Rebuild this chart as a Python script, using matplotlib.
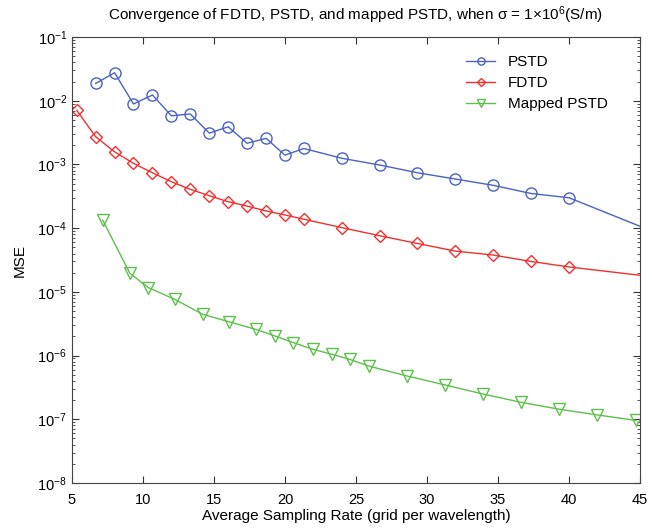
import matplotlib
matplotlib.use("Agg")
from matplotlib import pyplot as plt
from matplotlib.ticker import LogLocator, NullFormatter
import numpy as np

plt.rcParams['font.family'] = ['Liberation Sans', 'DejaVu Sans']
plt.rcParams['mathtext.fontset'] = 'custom'
plt.rcParams['mathtext.rm'] = 'Liberation Sans'
plt.rcParams['mathtext.it'] = 'Liberation Sans:italic'

# sampling rates (grid per wavelength)
pstd_x = [6.67, 8.0, 9.33, 10.67, 12.0, 13.33, 14.67, 16.0, 17.33, 18.67, 20.0,
          21.33, 24.0, 26.67, 29.33, 32.0, 34.67, 37.33, 40.0, 45.0]
pstd_y = [1.87e-2, 2.75e-2, 8.9e-3, 1.23e-2, 5.8e-3, 6.2e-3, 3.1e-3, 3.9e-3,
          2.15e-3, 2.57e-3, 1.4e-3, 1.78e-3, 1.25e-3, 9.8e-4, 7.4e-4, 5.9e-4,
          4.7e-4, 3.5e-4, 3.0e-4, 1.07e-4]

fdtd_x = [5.33, 6.67, 8.0, 9.33, 10.67, 12.0, 13.33, 14.67, 16.0, 17.33, 18.67,
          20.0, 21.33, 24.0, 26.67, 29.33, 32.0, 34.67, 37.33, 40.0, 45.0]
fdtd_y = [7.1e-3, 2.72e-3, 1.58e-3, 1.04e-3, 7.4e-4, 5.35e-4, 4.07e-4, 3.23e-4,
          2.6e-4, 2.22e-4, 1.86e-4, 1.61e-4, 1.38e-4, 1.02e-4, 7.6e-5, 5.75e-5,
          4.36e-5, 3.78e-5, 3.0e-5, 2.46e-5, 1.82e-5]

mpstd_x = [7.16, 9.08, 10.37, 12.25, 14.2, 16.08, 17.96, 19.3, 20.58, 21.99,
           23.29, 24.58, 25.94, 28.6, 31.27, 33.92, 36.6, 39.3, 42.0, 44.7]
mpstd_y = [1.34e-4, 1.95e-5, 1.17e-5, 7.6e-6, 4.45e-6, 3.38e-6, 2.57e-6,
           2.03e-6, 1.6e-6, 1.25e-6, 1.05e-6, 8.7e-7, 6.8e-7, 4.78e-7, 3.46e-7,
           2.5e-7, 1.85e-7, 1.44e-7, 1.17e-7, 9.6e-8]

fig = plt.figure(figsize=(6.52, 5.29), dpi=100)
ax = fig.add_axes([0.1104, 0.087, 0.8712, 0.843])

blue = '#4a62c4'
red = '#f03030'
green = '#5cc04a'

ax.semilogy(pstd_x, pstd_y, '-o', color=blue, lw=1.0, ms=8, mfc='none',
            mew=1.0, markevery=list(range(len(pstd_x) - 1)), label='PSTD')
ax.semilogy(fdtd_x, fdtd_y, '-D', color=red, lw=1.0, ms=6, mfc='none',
            mew=1.0, markevery=list(range(len(fdtd_x) - 1)), label='FDTD')
ax.semilogy(mpstd_x, mpstd_y, '-v', color=green, lw=1.0, ms=8.5, mfc='none',
            mew=1.0, label='Mapped PSTD')

ax.set_xlim(5, 45)
ax.set_ylim(1e-8, 1e-1)
ax.set_xticks(np.arange(5, 46, 5))
ax.yaxis.set_major_locator(LogLocator(base=10, numticks=10))
ax.yaxis.set_minor_locator(LogLocator(base=10, subs=np.arange(2, 10), numticks=20))
ax.yaxis.set_minor_formatter(NullFormatter())
ax.tick_params(which='both', direction='in', top=True, right=True,
               labelsize=10.5, colors='#333333', labelcolor='black')
ax.tick_params(which='major', length=5)
ax.tick_params(which='minor', length=2.5)
ax.tick_params(axis='x', which='major', pad=7)
for s in ax.spines.values():
    s.set_color('#444444')

ax.set_xlabel('Average Sampling Rate (grid per wavelength)', fontsize=11, labelpad=2)
ax.set_ylabel('MSE', fontsize=11, labelpad=8)
ax.set_title('Convergence of FDTD, PSTD, and mapped PSTD, when \u03c3 = 1\u00d710$^{6}$(S/m)',
             fontsize=11, pad=12)

ax.legend(loc='upper right', frameon=False, fontsize=11, handlelength=1.9,
          markerscale=0.65, borderaxespad=0.8, labelspacing=0.45,
          bbox_to_anchor=(0.975, 1.0))

fig.savefig('out.png', dpi=100)
